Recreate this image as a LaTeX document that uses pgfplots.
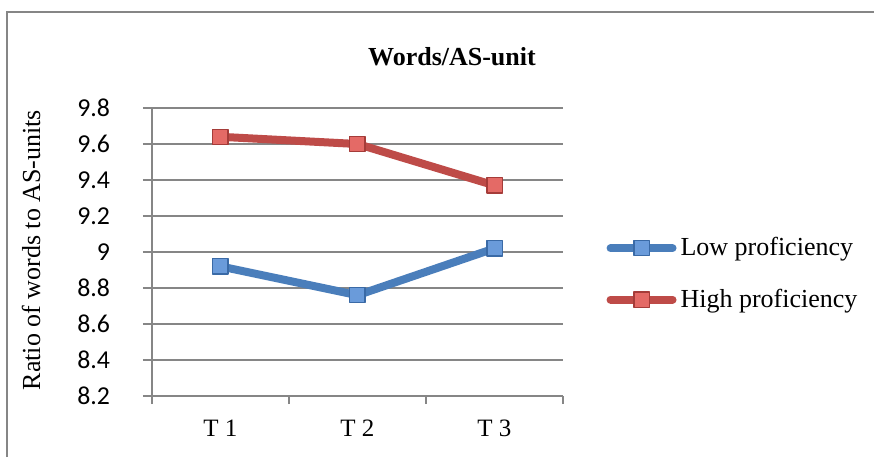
\documentclass[border=0pt]{standalone}
\usepackage{pgfplots}
\pgfplotsset{compat=1.18}
\usetikzlibrary{calc}
\usepackage{fontspec}
\setmainfont{Liberation Serif}
\newfontfamily\numfont{Carlito}
\definecolor{lowblue}{HTML}{4A7EBB}
\definecolor{lowfill}{HTML}{6A9BDA}
\definecolor{lowedge}{HTML}{3A6AA6}
\definecolor{highred}{HTML}{BE4B48}
\definecolor{highfill}{HTML}{E46A66}
\definecolor{highedge}{HTML}{A53C39}
\definecolor{axisgray}{HTML}{868686}
\begin{document}
\begin{tikzpicture}
\begin{axis}[
  scale only axis, width=205.5pt, height=144pt,
  xmin=-0.5, xmax=2.5, ymin=8.2, ymax=9.8,
  ytick={8.2,8.4,8.6,8.8,9,9.2,9.4,9.6,9.8},
  xtick={0,1,2}, xticklabels={T 1,T 2,T 3},
  minor xtick={-0.5,0.5,1.5,2.5},
  axis x line*=bottom, axis y line*=left,
  axis line style={axisgray, line width=0.9pt, -},
  ymajorgrids, major grid style={axisgray, line width=0.8pt},
  tick align=outside,
  major tick length=4.5pt, minor tick length=4pt,
  xtick style={draw=none},
  minor x tick style={draw=axisgray, line width=0.9pt},
  ytick style={axisgray, line width=0.9pt},
  /pgf/number format/assume math mode=true,
  yticklabel style={font=\numfont\fontsize{12.9}{14}\selectfont, anchor=east, xshift=-13pt},
  xticklabel style={font=\fontsize{12.5}{14}\selectfont, yshift=-4pt},
  legend style={at={(1.105,0.424)}, anchor=west, draw=none, fill=none,
    font=\fontsize{13}{15}\selectfont, row sep=11pt,
    inner sep=0pt, cells={anchor=west, inner xsep=1pt}},
  legend cell align=left,
  legend image code/.code={%
    \draw[mark repeat=2,mark phase=2,#1, line cap=round]
      plot coordinates {(0pt,0pt) (15.5pt,0pt) (31pt,0pt)};},
  clip=false,
]
\coordinate (O) at (rel axis cs:0,0);
\addplot[lowblue, line width=4pt, mark=square*, line join=round,
  mark options={solid, fill=lowfill, draw=lowedge, line width=0.6pt}, mark size=3.8pt]
  coordinates {(0,8.92) (1,8.76) (2,9.02)};
\addlegendentry{Low proficiency}
\addplot[highred, line width=4pt, mark=square*, line join=round,
  mark options={solid, fill=highfill, draw=highedge, line width=0.6pt}, mark size=3.8pt]
  coordinates {(0,9.64) (1,9.60) (2,9.37)};
\addlegendentry{High proficiency}
\end{axis}
% page coordinates in pixels, origin at the bottom-left corner of the chart area
\begin{scope}[shift={($(O)+(-76pt,-30.5pt)$)}, x=0.5pt, y=0.5pt]
\useasboundingbox (0,0) rectangle (874,457);
\draw[axisgray, line width=1pt] (7,0) -- (7,445) -- (874,445);
\node[font=\fontsize{13}{15}\selectfont\bfseries] at (452,400) {Words/AS-unit};
\node[font=\fontsize{13}{15}\selectfont, rotate=90] at (31,207) {Ratio of words to AS-units};
\end{scope}
\end{tikzpicture}
\end{document}
